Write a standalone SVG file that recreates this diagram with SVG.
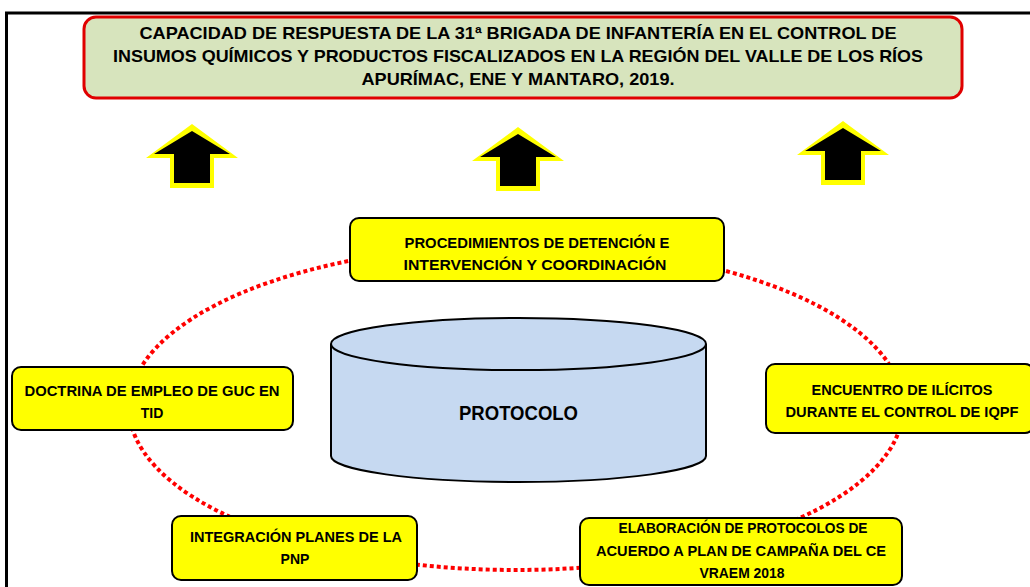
<svg xmlns="http://www.w3.org/2000/svg" width="1030" height="587" viewBox="0 0 1030 587">
<style>
.t{font-family:"Liberation Sans",Arial,sans-serif;font-weight:bold;fill:#000;text-anchor:middle}
.tt{font-size:17px}
.bt{font-size:14px}
.box{fill:#ffff00;stroke:#000;stroke-width:2}
.ao{fill:#ffff00}
.ai{fill:#000}
</style>
<rect width="1030" height="587" fill="#fff"/>
<path d="M1030 13 H6.5 V587" fill="none" stroke="#000" stroke-width="3"/>
<g id="connectors">
<ellipse cx="516" cy="407.5" rx="387" ry="162.5" fill="none" stroke="#ff0000" stroke-width="4" stroke-dasharray="4 3"/>
</g>
<g id="title">
<rect x="84" y="17" width="878" height="81" rx="12" fill="#d7e4bd" stroke="#e00000" stroke-width="3"/>
<text class="t tt" x="518" y="39" textLength="757" lengthAdjust="spacingAndGlyphs">CAPACIDAD DE RESPUESTA DE LA 31ª BRIGADA DE INFANTERÍA EN EL CONTROL DE</text>
<text class="t tt" x="518" y="62" textLength="810" lengthAdjust="spacingAndGlyphs">INSUMOS QUÍMICOS Y PRODUCTOS FISCALIZADOS EN LA REGIÓN DEL VALLE DE LOS RÍOS</text>
<text class="t tt" x="518" y="85" textLength="313" lengthAdjust="spacingAndGlyphs">APURÍMAC, ENE Y MANTARO, 2019.</text>
</g>
<g id="arrow1">
<polygon class="ao" points="192,124 146,158 170,158 170,188 214,188 214,158 238,158"/>
<polygon class="ai" points="192,131 154,154 174,154 174,183 210,183 210,154 230,154"/>
</g>
<g id="arrow2">
<polygon class="ao" points="518,127 472,161 496,161 496,191 540,191 540,161 564,161"/>
<polygon class="ai" points="518,134 480,157 500,157 500,186 536,186 536,157 556,157"/>
</g>
<g id="arrow3">
<polygon class="ao" points="843,121 797,155 821,155 821,185 865,185 865,155 889,155"/>
<polygon class="ai" points="843,128 805,151 825,151 825,180 861,180 861,151 881,151"/>
</g>
<g id="procedimientos">
<rect class="box" x="350" y="218" width="374" height="63" rx="9"/>
<text class="t bt" x="537" y="248" textLength="265" lengthAdjust="spacingAndGlyphs">PROCEDIMIENTOS DE DETENCIÓN E</text>
<text class="t bt" x="535" y="270" textLength="263" lengthAdjust="spacingAndGlyphs">INTERVENCIÓN Y  COORDINACIÓN</text>
</g>
<g id="protocolo">
<path d="M331 344 V456 A187.5 26 0 0 0 706 456 V344" fill="#c6d9f1" stroke="#000" stroke-width="2"/>
<ellipse cx="518.5" cy="344" rx="187.5" ry="26" fill="#c6d9f1" stroke="#000" stroke-width="2"/>
<text class="t" x="518.5" y="420" font-size="20" textLength="119" lengthAdjust="spacingAndGlyphs">PROTOCOLO</text>
</g>
<g id="doctrina">
<rect class="box" x="12" y="367" width="281" height="63" rx="9"/>
<text class="t bt" x="152" y="396" textLength="255" lengthAdjust="spacingAndGlyphs">DOCTRINA DE EMPLEO DE GUC EN</text>
<text class="t bt" x="152" y="418">TID</text>
</g>
<g id="encuentro">
<rect class="box" x="766" y="364" width="268" height="69" rx="9"/>
<text class="t bt" x="902" y="395" textLength="181" lengthAdjust="spacingAndGlyphs">ENCUENTRO DE ILÍCITOS</text>
<text class="t bt" x="902" y="417" textLength="233" lengthAdjust="spacingAndGlyphs">DURANTE EL CONTROL DE IQPF</text>
</g>
<g id="integracion">
<rect class="box" x="172" y="516" width="245" height="64" rx="9"/>
<text class="t bt" x="296" y="542" textLength="212" lengthAdjust="spacingAndGlyphs">INTEGRACIÓN PLANES DE LA</text>
<text class="t bt" x="295" y="564">PNP</text>
</g>
<g id="elaboracion">
<rect class="box" x="580" y="518" width="322" height="67" rx="9"/>
<text class="t bt" x="743" y="533" textLength="249" lengthAdjust="spacingAndGlyphs">ELABORACIÓN DE PROTOCOLOS DE</text>
<text class="t bt" x="741" y="556" textLength="290" lengthAdjust="spacingAndGlyphs">ACUERDO A PLAN DE CAMPAÑA DEL CE</text>
<text class="t bt" x="742" y="578" textLength="85" lengthAdjust="spacingAndGlyphs">VRAEM 2018</text>
</g>
</svg>
